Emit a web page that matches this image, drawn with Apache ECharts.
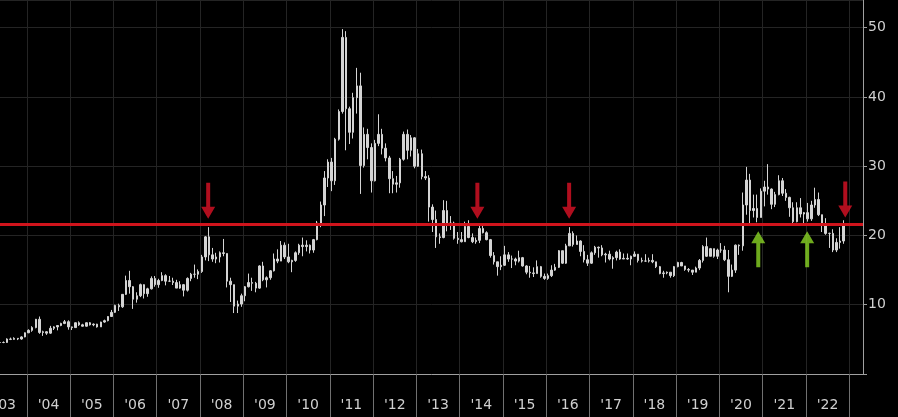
<!DOCTYPE html>
<html><head><meta charset="utf-8">
<script src="https://cdn.jsdelivr.net/npm/echarts@6/dist/echarts.min.js"></script>
<style>html,body{margin:0;padding:0;background:#000;}#c{width:898px;height:417px;}</style>
</head><body><div id="c"></div>
<script>
// Monthly silver candles, May 2003 .. Nov 2022
const startYear = 2003, startMonth = 5;
const firstOpen = 4.55;
const closes = [
  4.55,4.55,5.05,5.00,5.15,5.05,5.35,5.95,
  6.30,6.70,7.90,6.00,6.10,5.90,6.60,6.80,7.00,7.30,7.55,6.80,
  6.70,7.40,7.10,6.90,7.40,7.10,7.20,6.80,7.50,7.70,8.30,8.90,
  9.90,9.70,11.50,13.50,12.60,10.80,11.30,12.90,11.60,12.30,13.80,12.90,
  13.50,14.20,13.40,13.40,13.20,12.40,12.90,12.10,13.80,14.40,14.40,14.80,
  16.90,19.80,17.20,16.60,16.90,17.50,17.40,13.40,12.90,9.80,10.10,11.30,
  12.60,13.20,13.10,12.40,15.60,13.60,13.90,14.90,16.60,16.30,18.60,16.90,
  16.20,16.40,17.50,18.60,18.40,18.60,17.90,19.40,21.80,24.40,28.30,30.60,
  27.90,33.90,37.90,48.60,38.30,34.90,39.90,41.60,30.10,34.60,32.70,27.90,
  33.30,34.60,32.60,31.20,28.20,27.40,27.60,31.00,34.60,32.30,34.10,30.00,
  31.80,28.50,28.30,24.10,22.30,19.80,19.70,23.60,21.70,21.80,19.60,19.40,
  19.10,21.30,19.70,19.10,19.30,21.00,20.40,19.40,17.10,16.20,15.50,15.70,
  17.20,16.60,16.60,16.30,16.80,15.60,14.70,14.60,14.50,15.50,14.10,13.80,
  14.20,15.00,15.40,17.80,16.00,18.50,20.30,18.70,19.20,17.70,16.50,16.00,
  17.50,18.30,18.20,17.20,17.30,16.60,16.80,17.60,16.60,16.70,16.60,17.00,
  17.30,16.40,16.30,16.30,16.40,16.20,15.50,14.50,14.60,14.70,14.20,15.50,
  16.10,15.60,15.10,15.00,14.70,15.30,16.40,18.40,17.00,18.10,17.00,17.90,
  17.90,16.50,14.10,15.00,18.60,18.50,24.40,28.00,23.60,23.90,22.60,26.40,
  27.00,26.70,24.50,25.90,27.90,26.10,25.50,24.00,22.00,24.00,23.10,23.30,
  22.40,24.40,25.20,23.00,21.70,20.30,20.30,17.90,19.00,19.20,21.50
];
const highs = [
  4.85,4.70,5.15,5.25,5.30,5.20,5.45,6.00,
  6.45,6.90,7.95,8.30,6.25,6.20,6.95,6.90,7.00,7.40,7.80,7.75,
  6.85,7.45,7.60,7.25,7.45,7.50,7.30,7.25,7.55,7.85,8.35,9.25,
  10.00,10.15,11.55,14.20,14.90,12.70,11.80,13.05,12.95,12.45,14.10,14.15,
  13.75,14.70,14.40,14.15,13.90,13.60,13.40,13.00,13.95,14.60,15.80,15.10,
  17.20,19.90,21.20,18.20,17.50,17.70,19.50,17.40,13.90,12.90,10.60,11.60,
  12.70,14.50,13.90,13.30,15.70,16.20,14.10,15.00,17.40,18.00,19.20,19.00,
  18.80,16.50,17.70,18.80,19.70,19.30,18.70,19.50,22.10,24.90,29.30,31.00,
  31.20,34.10,38.20,49.80,49.50,38.60,40.60,44.20,43.50,35.60,35.40,33.30,
  33.80,37.50,35.40,33.30,31.50,29.30,28.60,31.20,35.00,35.30,34.50,34.20,
  32.50,32.40,29.30,28.70,24.50,23.60,20.30,25.10,25.00,22.80,22.00,20.50,
  20.50,22.00,22.20,20.30,19.70,21.50,21.60,20.60,19.50,17.60,16.20,17.00,
  18.50,17.60,17.10,16.80,17.80,16.90,15.70,15.60,15.40,16.40,15.60,14.50,
  14.50,15.70,15.90,17.90,17.80,18.80,21.20,20.60,20.00,19.30,18.60,17.20,
  17.70,18.50,18.40,18.60,17.50,17.80,17.00,17.80,18.00,17.40,17.40,17.10,
  17.70,17.10,16.80,17.30,16.80,17.30,16.20,15.60,14.90,14.80,14.70,15.60,
  16.20,16.20,15.60,15.30,15.00,15.50,16.60,18.60,19.70,18.20,17.80,18.10,
  18.90,18.50,17.90,15.80,18.70,18.70,26.20,29.90,28.90,25.90,25.90,26.80,
  27.90,30.30,26.80,26.30,28.70,28.30,26.70,25.60,24.80,24.80,25.40,23.40,
  24.70,25.00,26.90,26.20,23.00,22.50,20.40,20.90,19.60,21.20,22.20
];
const lows = [
  4.50,4.45,4.50,4.90,4.95,4.90,4.95,5.30,
  5.90,6.10,6.60,5.80,5.50,5.65,5.80,6.35,6.30,6.90,7.20,6.40,
  6.35,6.65,6.95,6.85,6.85,7.00,6.90,6.70,6.80,7.40,7.60,8.25,
  8.80,9.10,9.55,11.40,11.60,9.40,10.30,11.10,10.90,11.15,12.20,12.60,
  12.45,13.40,12.80,13.30,12.85,12.40,12.30,11.20,11.90,13.40,13.90,13.70,
  14.60,16.40,16.30,16.20,16.00,16.10,17.00,12.50,10.40,8.80,8.80,9.70,
  10.50,12.50,12.00,11.80,12.30,13.40,12.50,13.60,14.80,16.00,16.40,16.60,
  16.00,14.70,16.20,17.20,17.00,17.70,17.40,17.50,19.30,21.20,22.80,27.00,
  26.40,27.30,33.70,37.60,32.30,33.20,34.00,37.60,26.00,29.80,31.00,26.20,
  27.80,32.90,31.70,30.70,26.10,26.10,26.20,26.90,30.80,31.00,31.40,29.70,
  29.90,28.10,28.00,22.00,20.50,18.20,18.80,19.60,20.60,20.80,19.40,18.80,
  19.00,19.20,19.60,18.90,18.80,18.90,20.30,19.30,16.80,15.80,14.20,15.00,
  15.60,16.20,15.30,15.70,16.10,15.50,14.40,13.90,14.00,14.50,13.90,13.60,
  13.60,14.00,14.90,15.30,15.90,15.90,18.50,18.40,18.70,17.00,16.10,15.60,
  15.90,17.20,16.80,17.00,16.10,16.40,15.20,16.40,16.50,16.60,16.50,15.70,
  16.90,16.10,16.10,16.20,16.10,16.00,15.30,14.40,13.90,14.40,13.90,14.00,
  15.40,15.60,14.90,14.70,14.30,14.70,15.00,16.10,16.90,17.00,16.80,16.60,
  17.50,16.30,11.80,14.00,14.60,17.20,17.80,23.00,21.70,22.60,21.90,22.60,
  24.20,25.90,23.80,24.10,25.80,25.70,25.00,22.70,21.40,21.90,22.60,21.40,
  22.00,22.10,24.00,22.80,20.50,20.10,18.20,17.60,17.60,18.10,18.80
];
const yearTicks = [2004,2005,2006,2007,2008,2009,2010,2011,2012,2013,2014,2015,2016,2017,2018,2019,2020,2021,2022,2023];
const yearLabels = ["'03","'04","'05","'06","'07","'08","'09","'10","'11","'12","'13","'14","'15","'16","'17","'18","'19","'20","'21","'22"];
const priceTicks = [10, 20, 30, 40, 50];
const supportLevel = 21.6;
const redArrows = [[2008.19, 25.0],[2014.41, 25.0],[2016.53, 25.0],[2022.91, 25.2]];
const greenArrows = [[2020.90, 18.0],[2022.03, 18.0]];

const candles = closes.map((c, i) => {
  const t = startYear + (startMonth - 1 + i + 0.5) / 12;
  const o = i === 0 ? firstOpen : closes[i - 1];
  const h = Math.max(highs[i], o, c);
  const l = Math.min(lows[i], o, c);
  return [t, o, c, l, h];
});
const labelPos = yearLabels.map((s, i) => startYear + 0.5 + i);

const downArrow = 'path://M5,0 L9,0 L9,24 L14,24 L7,36 L0,24 L5,24 Z';
const upArrow = 'path://M7,0 L14,12 L9,12 L9,36 L5,36 L5,12 L0,12 Z';

const chart = echarts.init(document.getElementById('c'), null, {renderer: 'canvas'});
chart.setOption({
  backgroundColor: '#000',
  animation: false,
  grid: {left: 0, right: 35, top: 0, bottom: 43, containLabel: false, outerBoundsMode: 'none'},
  xAxis: {
    type: 'value', min: 2003.38, max: 2023.32,
    axisLine: {show: true, lineStyle: {color: '#a0a0a0', width: 1}},
    axisTick: {show: true, customValues: yearTicks, length: 43, inside: false, lineStyle: {color: '#707070', width: 1}},
    splitLine: {show: true, lineStyle: {color: '#242424', width: 1}},
    axisLabel: {
      customValues: labelPos, color: '#d0d0d0', fontSize: 14, fontFamily: 'DejaVu Sans', margin: 24,
      formatter: v => yearLabels[Math.round(v - startYear - 0.5)] || ''
    }
  },
  yAxis: {
    type: 'value', position: 'right', min: 0, max: 54, interval: 10,
    axisLine: {show: true, lineStyle: {color: '#a0a0a0', width: 1}},
    axisTick: {show: true, length: 4, lineStyle: {color: '#a0a0a0'}},
    splitLine: {show: true, lineStyle: {color: '#242424', width: 1}},
    axisLabel: {color: '#d0d0d0', fontSize: 14, fontFamily: 'DejaVu Sans', margin: 5,
      showMaxLabel: false,
      formatter: v => (priceTicks.indexOf(v) >= 0 ? String(v) : '')}
  },
  series: [
    {
      type: 'candlestick',
      data: candles,
      encode: {x: 0, y: [1, 2, 3, 4]},
      barWidth: 2,
      itemStyle: {color: '#d4d4d4', color0: '#d4d4d4', borderColor: '#d4d4d4', borderColor0: '#d4d4d4', borderWidth: 1},
      markLine: {
        silent: true, symbol: ['none', 'none'], label: {show: false},
        lineStyle: {color: '#d0141c', width: 3, type: 'solid'},
        data: [{yAxis: supportLevel}]
      }
    },
    {
      type: 'scatter', data: redArrows, symbol: downArrow, symbolSize: [14, 36],
      itemStyle: {color: '#dc1226'}, silent: true
    },
    {
      type: 'scatter', data: greenArrows, symbol: upArrow, symbolSize: [14, 36],
      itemStyle: {color: '#8ad424'}, silent: true
    }
  ]
});
</script></body></html>
